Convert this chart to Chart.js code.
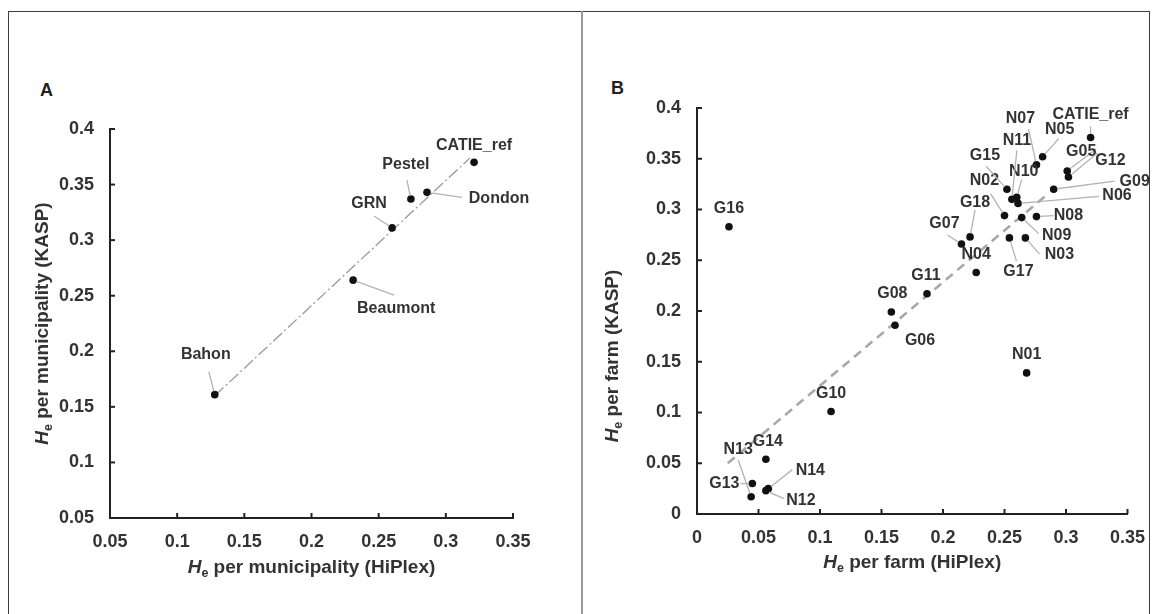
<!DOCTYPE html>
<html>
<head>
<meta charset="utf-8">
<script src="https://cdn.jsdelivr.net/npm/chart.js@4.4.1/dist/chart.umd.min.js"></script>
<style>
  html, body { margin: 0; padding: 0; background: #fff; }
  #fig { position: relative; width: 1158px; height: 614px; overflow: hidden;
         font-family: "Liberation Sans", Arial, sans-serif; }
  .frame { position: absolute; left: 8px; top: 11px; width: 1142px; height: 620px;
           border: 1.5px solid #3c3c3c; box-sizing: border-box; }
  .divider { position: absolute; left: 581px; top: 11px; width: 2px; height: 620px; background: #999; }
  .letter { position: absolute; font-weight: bold; font-size: 18px; color: #222; }
  .panel { position: absolute; top: 0; }
</style>
</head>
<body>
<div id="fig">
  <div class="frame"></div>
  <div class="divider"></div>
  <div class="letter" style="left:40px;top:80px">A</div>
  <div class="letter" style="left:611px;top:78px">B</div>
  <div class="panel" style="left:0"><canvas id="chartA" width="580" height="614"></canvas></div>
  <div class="panel" style="left:580px"><canvas id="chartB" width="578" height="614"></canvas></div>
</div>

<script>
// ── Panel A: He per municipality ─────────────────────
const municipalities = ['Bahon', 'Beaumont', 'GRN', 'Pestel', 'Dondon', 'CATIE_ref'];
const heHiplexMun    = [0.128, 0.231, 0.260, 0.274, 0.286, 0.321];
const heKaspMun      = [0.161, 0.264, 0.311, 0.337, 0.343, 0.370];
const trendMunX      = [0.128, 0.318];
const trendMunY      = [0.160, 0.374];

// ── Panel B: He per farm ─────────────────────────────
const farms = ['CATIE_ref', 'N01', 'N02', 'N03', 'N04', 'N05', 'N06', 'N07', 'N08', 'N09', 'N10',
               'N11', 'N12', 'N13', 'N14', 'G05', 'G06', 'G07', 'G08', 'G09', 'G10', 'G11',
               'G12', 'G13', 'G14', 'G15', 'G16', 'G17', 'G18'];
const heHiplexFarm = [0.320, 0.268, 0.250, 0.267, 0.227, 0.281, 0.261, 0.276, 0.276, 0.264, 0.260,
                      0.256, 0.056, 0.044, 0.058, 0.301, 0.161, 0.215, 0.158, 0.290, 0.109, 0.187,
                      0.302, 0.045, 0.056, 0.252, 0.026, 0.254, 0.222];
const heKaspFarm   = [0.371, 0.139, 0.294, 0.272, 0.238, 0.352, 0.306, 0.344, 0.293, 0.292, 0.312,
                      0.310, 0.023, 0.017, 0.025, 0.338, 0.186, 0.266, 0.199, 0.320, 0.101, 0.217,
                      0.332, 0.030, 0.054, 0.320, 0.283, 0.272, 0.273];
const trendFarmX   = [0.025, 0.283];
const trendFarmY   = [0.050, 0.313];

// label placement (px from the point): [dx, dy, leaderX, leaderY]
const labelLayoutA = {
  'Bahon':     [-9, -40, -6, -23],
  'Beaumont':  [43, 28, 41, 15],
  'GRN':       [-23, -24, -18, -12],
  'Pestel':    [-5, -34, -4, -19],
  'Dondon':    [72, 6, 35, 5],
  'CATIE_ref': [0, -17],
};
const labelLayoutB = {
  'CATIE_ref': [0, -23, 0, -11],
  'N01': [0, -18],
  'N02': [-20, -35, -14, -22],
  'N03': [34, 17, 14, 16],
  'N04': [0, -18],
  'N05': [17, -27, 16, -18],
  'N06': [99, -8, 81, -7],
  'N07': [-16, -46, -8, -36],
  'N08': [32, -1, 17, -1],
  'N09': [35, 18, 17, 16],
  'N10': [7, -26, 5, -18],
  'N11': [5, -59, 5, -49],
  'N12': [35, 10, 18, 8],
  'N13': [-13, -47, -13, -37],
  'N14': [42, -18, 24, -19],
  'G05': [14, -19, 29, -22],
  'G06': [25, 15],
  'G07': [-17, -20, -14, -9],
  'G08': [1, -18],
  'G09': [81, -8, 61, -8],
  'G10': [0, -18],
  'G11': [-1, -18],
  'G12': [42, -16, 29, -24],
  'G13': [-28, 0, -12, 0],
  'G14': [2, -18],
  'G15': [-22, -34, -21, -23],
  'G16': [0, -18],
  'G17': [9, 34, 7, 23],
  'G18': [5, -34, 5, -27],
};

const FONT = '"Liberation Sans", Arial, sans-serif';
const TEXT = '#333';

// ── Plugins ──────────────────────────────────────────
const insideTicks = {
  id: 'insideTicks',
  afterDraw(chart) {
    const { ctx, scales: { x, y } } = chart;
    ctx.save();
    ctx.strokeStyle = '#222';
    ctx.lineWidth = 2;
    x.ticks.forEach(t => {
      const px = x.getPixelForValue(t.value);
      ctx.beginPath(); ctx.moveTo(px, y.bottom); ctx.lineTo(px, y.bottom - 5); ctx.stroke();
    });
    y.ticks.forEach(t => {
      const py = y.getPixelForValue(t.value);
      ctx.beginPath(); ctx.moveTo(x.left, py); ctx.lineTo(x.left + 5, py); ctx.stroke();
    });
    ctx.restore();
  }
};

function drawHeTitle(ctx, rest, cx, cy, rotate) {
  ctx.save();
  ctx.translate(cx, cy);
  if (rotate) ctx.rotate(-Math.PI / 2);
  ctx.fillStyle = TEXT;
  ctx.textBaseline = 'middle';
  ctx.textAlign = 'left';
  const fH = 'italic bold 19px ' + FONT, fSub = 'bold 12.5px ' + FONT, fRest = 'bold 19px ' + FONT;
  ctx.font = fH;    const wH = ctx.measureText('H').width;
  ctx.font = fSub;  const wS = ctx.measureText('e').width;
  ctx.font = fRest; const wR = ctx.measureText(rest).width;
  let x0 = -(wH + wS + wR) / 2;
  ctx.font = fH;    ctx.fillText('H', x0, 0);
  ctx.font = fSub;  ctx.fillText('e', x0 + wH, 6);
  ctx.font = fRest; ctx.fillText(rest, x0 + wH + wS, 0);
  ctx.restore();
}

const axisTitles = {
  id: 'axisTitles',
  afterDraw(chart, args, opts) {
    const a = chart.chartArea;
    const cx = (a.left + a.right) / 2, cy = (a.top + a.bottom) / 2;
    drawHeTitle(chart.ctx, opts.xText, cx, a.bottom + opts.xGap, false);
    drawHeTitle(chart.ctx, opts.yText, a.left + opts.yGap, cy + opts.yShift, true);
  }
};

const pointLabels = {
  id: 'pointLabels',
  afterDatasetsDraw(chart, args, opts) {
    const ctx = chart.ctx;
    const meta = chart.getDatasetMeta(0);
    ctx.save();
    ctx.font = 'bold 16px ' + FONT;
    ctx.textAlign = 'center';
    ctx.textBaseline = 'middle';
    meta.data.forEach((pt, i) => {
      const name = opts.names[i];
      const L = opts.layout[name];
      if (!L) return;
      if (L.length > 2) {
        const sx = pt.x + L[2], sy = pt.y + L[3];
        const len = Math.hypot(pt.x - sx, pt.y - sy) || 1;
        const ex = pt.x - (pt.x - sx) / len * 3.5, ey = pt.y - (pt.y - sy) / len * 3.5;
        ctx.strokeStyle = '#b3b3b3';
        ctx.lineWidth = 1.3;
        ctx.beginPath(); ctx.moveTo(sx, sy); ctx.lineTo(ex, ey); ctx.stroke();
      }
      ctx.fillStyle = TEXT;
      ctx.fillText(name, pt.x + L[0], pt.y + L[1]);
    });
    ctx.restore();
  }
};

const fmt = v => parseFloat(v.toFixed(2)).toString();

function makeScale(min, max, padding, fit, vertical) {
  return {
    type: 'linear',
    min, max,
    afterFit: s => { if (vertical) s.width = fit; else s.height = fit; },
    ticks: {
      stepSize: 0.05, padding, color: TEXT, autoSkip: false, maxRotation: 0,
      font: { family: FONT, size: 18, weight: 'bold' },
      callback: fmt,
    },
    grid: { drawOnChartArea: false, drawTicks: false },
    border: { display: true, color: '#222', width: 2 },
  };
}

function buildChart(id, names, xs, ys, tx, ty, trendStyle, cfg) {
  const points = names.map((n, i) => ({ x: xs[i], y: ys[i] }));
  const trend  = tx.map((v, i) => ({ x: v, y: ty[i] }));
  return new Chart(document.getElementById(id), {
    type: 'scatter',
    data: {
      datasets: [
        { data: points, pointRadius: 3.8, pointBackgroundColor: '#111', pointBorderWidth: 0 },
        Object.assign({ data: trend, showLine: true, pointRadius: 0, fill: false }, trendStyle),
      ],
    },
    options: {
      responsive: false,
      animation: false,
      layout: { padding: cfg.padding },
      plugins: {
        legend: { display: false },
        tooltip: { enabled: false },
        pointLabels: { names, layout: cfg.layout },
        axisTitles: cfg.titles,
      },
      scales: {
        x: makeScale(cfg.x[0], cfg.x[1], 13, 40, false),
        y: makeScale(cfg.y[0], cfg.y[1], 16, cfg.yWidth, true),
      },
    },
    plugins: [insideTicks, axisTitles, pointLabels],
  });
}

buildChart('chartA', municipalities, heHiplexMun, heKaspMun, trendMunX, trendMunY,
  { borderColor: '#9a9a9a', borderWidth: 1.3, borderDash: [12, 3, 2, 3] },
  {
    x: [0.05, 0.35], y: [0.05, 0.4], yWidth: 110,
    padding: { left: 0, right: 67, top: 129, bottom: 56 },
    layout: labelLayoutA,
    titles: { xText: ' per municipality (HiPlex)', yText: ' per municipality (KASP)',
              xGap: 50, yGap: -67, yShift: 0 },
  });

buildChart('chartB', farms, heHiplexFarm, heKaspFarm, trendFarmX, trendFarmY,
  { borderColor: '#a8a8a8', borderWidth: 2.6, borderDash: [9, 6] },
  {
    x: [0, 0.35], y: [0, 0.4], yWidth: 117,
    padding: { left: 0, right: 26, top: 108, bottom: 60 },
    layout: labelLayoutB,
    titles: { xText: ' per farm (HiPlex)', yText: ' per farm (KASP)',
              xGap: 49, yGap: -84, yShift: 45 },
  });
</script>
</body>
</html>
